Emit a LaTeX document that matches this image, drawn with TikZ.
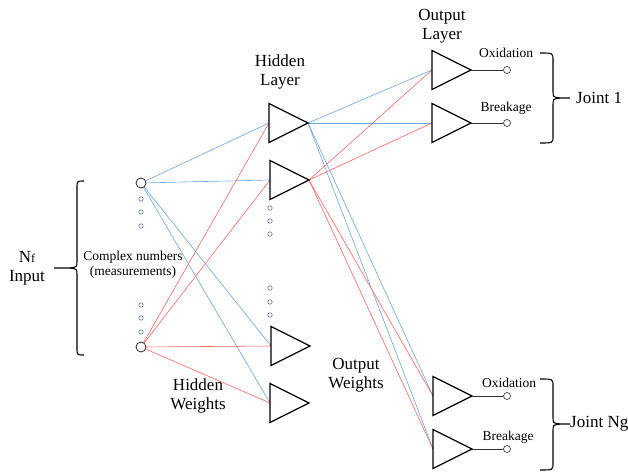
\documentclass[tikz,border=0pt]{standalone}
\usepackage{fontspec}
\setmainfont{Liberation Serif}
\usetikzlibrary{calc}
\definecolor{wblue}{RGB}{110,165,220}
\definecolor{wred}{RGB}{250,105,105}
\definecolor{dotc}{RGB}{95,115,165}
\begin{document}
\begin{tikzpicture}[x=1pt,y=-1pt,
  tri/.style={draw=black,line width=1.3pt,line join=miter},
  bw/.style={draw=wblue,line width=0.6pt},
  rw/.style={draw=wred,line width=0.6pt},
  incirc/.style={draw=black!75,line width=0.9pt,fill=white},
  outcirc/.style={draw=black!75,line width=0.7pt,fill=white},
  sdot/.style={draw=dotc,line width=0.6pt,fill=white},
  brace/.style={draw=black,line width=1.1pt},
  big/.style={font=\fontsize{17}{19.5}\selectfont,align=center,inner sep=0pt},
  small/.style={font=\fontsize{13.5}{15}\selectfont,align=center,inner sep=0pt}
]
\useasboundingbox (0,0) rectangle (628,474);
% coordinates
\coordinate (i1) at (141,183);
\coordinate (i2) at (141,347);
\coordinate (h1) at (269,123); \coordinate (h1t) at (308,123);
\coordinate (h2) at (270,180); \coordinate (h2t) at (309,180);
\coordinate (h3) at (271,346); \coordinate (h3t) at (310,346);
\coordinate (h4) at (270,403); \coordinate (h4t) at (309,403);
\coordinate (o1) at (432,70);  \coordinate (o1t) at (471,70);
\coordinate (o2) at (432,123); \coordinate (o2t) at (471,123);
\coordinate (o3) at (433,396); \coordinate (o3t) at (472,396);
\coordinate (o4) at (433,449); \coordinate (o4t) at (472,449);
% input -> hidden
\foreach \h in {h1,h2,h3,h4} {\draw[bw] (i1) -- (\h);}
\foreach \h in {h1,h2,h3,h4} {\draw[rw] (i2) -- (\h);}
% hidden -> output
\foreach \o in {o1,o2,o3,o4} {\draw[bw] (h1t) -- (\o);}
\foreach \o in {o1,o2,o3,o4} {\draw[rw] (h2t) -- (\o);}
% triangles
\foreach \c in {h1,h2,h3,h4,o1,o2,o3,o4} {
  \draw[tri] ($(\c)+(0,-19.5)$) -- ($(\c)+(39,0)$) -- ($(\c)+(0,19.5)$) -- cycle;
}
% output circles
\node[outcirc,circle,minimum size=7pt,inner sep=0pt] (c1) at (507,70) {};
\node[outcirc,circle,minimum size=7pt,inner sep=0pt] (c2) at (507,123) {};
\node[outcirc,circle,minimum size=7pt,inner sep=0pt] (c3) at (507,396) {};
\node[outcirc,circle,minimum size=7pt,inner sep=0pt] (c4) at (507,449) {};
\draw[black!80,line width=0.7pt] (o1t) -- (c1);
\draw[black!80,line width=0.7pt] (o2t) -- (c2);
\draw[black!80,line width=0.7pt] (o3t) -- (c3);
\draw[black!80,line width=0.7pt] (o4t) -- (c4);
% input circles
\node[incirc,circle,minimum size=10pt,inner sep=0pt] (n1) at (i1) {};
\node[incirc,circle,minimum size=10pt,inner sep=0pt] (n2) at (i2) {};
% small dots
\foreach \y in {199,212,226,305,318,332} {\draw[sdot] (141,\y) circle (2.2);}
\foreach \y in {208,221,234,288,302,315} {\draw[sdot] (270,\y) circle (2.2);}
% braces
\draw[brace] (84,181) .. controls (77,181) .. (77,188) -- (77,261)
  .. controls (77,267) .. (70,268) -- (54,268);
\draw[brace] (70,268) .. controls (77,269) .. (77,275) -- (77,348)
  .. controls (77,355) .. (84,355);
\draw[brace] (540,53) .. controls (553,53) .. (553,60) -- (553,91)
  .. controls (553,97) .. (560,98) -- (570,98);
\draw[brace] (560,98) .. controls (553,99) .. (553,105) -- (553,136)
  .. controls (553,143) .. (540,143);
\draw[brace] (540,379) .. controls (553,379) .. (553,386) -- (553,417)
  .. controls (553,423) .. (560,424) -- (570,424);
\draw[brace] (560,424) .. controls (553,425) .. (553,431) -- (553,463)
  .. controls (553,470) .. (540,470);
% labels
\node[big] (lnf) at (27,268) {N{\fontsize{12}{14}\selectfont f}\\Input};
\node[small] (lcx) at (133,265) {Complex numbers\\(measurements)};
\node[big] (lhl) at (280,72) {Hidden\\Layer};
\node[big] (lol) at (442,26) {Output\\Layer};
\node[big] (lhw) at (198,396) {Hidden\\Weights};
\node[big] (low) at (356,375) {Output\\Weights};
\node[small] (lox1) at (506,53) {Oxidation};
\node[small] (lbr1) at (506,108) {Breakage};
\node[small] (lox2) at (509,383) {Oxidation};
\node[small] (lbr2) at (508,437) {Breakage};
\node[big,anchor=west] (lj1) at (576,98) {Joint 1};
\node[big,anchor=west] (lj2) at (570,424) {Joint Ng};
\end{tikzpicture}
\end{document}
